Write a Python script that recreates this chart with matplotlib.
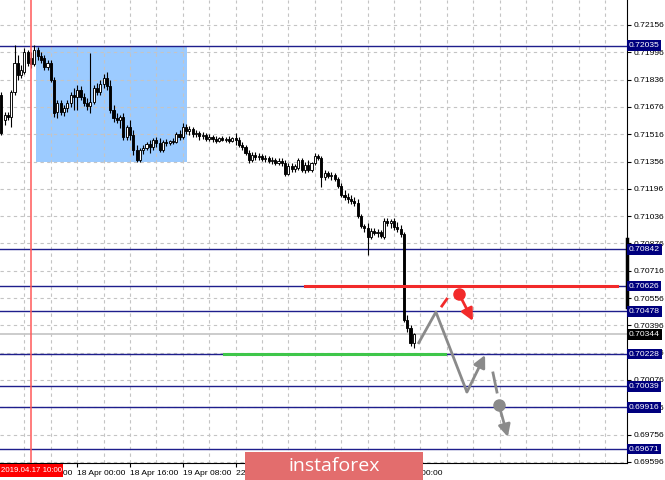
import numpy as np
import matplotlib
matplotlib.use("Agg")
import matplotlib.pyplot as plt
from matplotlib.patches import Rectangle

plt.rcParams["font.family"] = ["Liberation Sans", "DejaVu Sans"]

# H1 candles, AUD/USD style quotes (bar 0 = 17 Apr 00:00)
opens = [0.71763, 0.71746, 0.71599, 0.71629, 0.71617, 0.71763, 0.71933, 0.71863, 0.71881, 0.71998,
         0.71963, 0.71928, 0.72010, 0.71974, 0.71963, 0.71910, 0.71933, 0.71834, 0.71646, 0.71699,
         0.71646, 0.71670, 0.71699, 0.71746, 0.71734, 0.71775, 0.71734, 0.71699, 0.71681, 0.71705,
         0.71787, 0.71763, 0.71810, 0.71845, 0.71799, 0.71658, 0.71611, 0.71599, 0.71617, 0.71500,
         0.71558, 0.71511, 0.71424, 0.71365, 0.71424, 0.71435, 0.71459, 0.71441, 0.71482, 0.71465,
         0.71424, 0.71471, 0.71465, 0.71476, 0.71471, 0.71517, 0.71500, 0.71558, 0.71535, 0.71547,
         0.71517, 0.71523, 0.71506, 0.71511, 0.71488, 0.71500, 0.71488, 0.71476, 0.71494, 0.71482,
         0.71488, 0.71476, 0.71494, 0.71482, 0.71453, 0.71441, 0.71406, 0.71365, 0.71394, 0.71383,
         0.71388, 0.71371, 0.71377, 0.71359, 0.71365, 0.71347, 0.71359, 0.71347, 0.71283, 0.71330,
         0.71312, 0.71318, 0.71365, 0.71306, 0.71336, 0.71306, 0.71347, 0.71388, 0.71377, 0.71265,
         0.71289, 0.71271, 0.71277, 0.71254, 0.71213, 0.71160, 0.71148, 0.71136, 0.71125, 0.71113,
         0.71037, 0.70978, 0.70967, 0.70914, 0.70949, 0.70937, 0.70943, 0.70914, 0.71007, 0.70996,
         0.71007, 0.70973, 0.70961, 0.70932, 0.70427, 0.70381, 0.70292]
highs = [0.71787, 0.71763, 0.71646, 0.71646, 0.71775, 0.72039, 0.71980, 0.71922, 0.72021, 0.72010,
         0.71998, 0.72039, 0.72027, 0.71998, 0.71980, 0.71951, 0.71951, 0.71851, 0.71717, 0.71717,
         0.71687, 0.71717, 0.71763, 0.71787, 0.71804, 0.71799, 0.71758, 0.71728, 0.71992, 0.71804,
         0.71816, 0.71834, 0.71869, 0.71881, 0.71834, 0.71687, 0.71641, 0.71629, 0.71641, 0.71570,
         0.71599, 0.71541, 0.71453, 0.71435, 0.71453, 0.71471, 0.71482, 0.71494, 0.71500, 0.71494,
         0.71482, 0.71488, 0.71482, 0.71494, 0.71529, 0.71541, 0.71582, 0.71576, 0.71564, 0.71558,
         0.71541, 0.71535, 0.71529, 0.71523, 0.71517, 0.71511, 0.71506, 0.71500, 0.71506, 0.71500,
         0.71506, 0.71500, 0.71523, 0.71500, 0.71471, 0.71453, 0.71424, 0.71412, 0.71412, 0.71406,
         0.71400, 0.71394, 0.71388, 0.71383, 0.71377, 0.71377, 0.71377, 0.71365, 0.71347, 0.71347,
         0.71342, 0.71377, 0.71377, 0.71353, 0.71365, 0.71353, 0.71406, 0.71400, 0.71388, 0.71306,
         0.71300, 0.71295, 0.71289, 0.71265, 0.71230, 0.71189, 0.71172, 0.71160, 0.71148, 0.71136,
         0.71048, 0.70990, 0.70996, 0.70967, 0.70967, 0.70961, 0.70955, 0.71025, 0.71025, 0.71019,
         0.71025, 0.71002, 0.70984, 0.70943, 0.70457, 0.70398, 0.70351]
lows = [0.71717, 0.71511, 0.71570, 0.71599, 0.71558, 0.71746, 0.71834, 0.71845, 0.71869, 0.71916,
        0.71904, 0.71916, 0.71951, 0.71933, 0.71892, 0.71892, 0.71822, 0.71617, 0.71611, 0.71629,
        0.71623, 0.71646, 0.71676, 0.71658, 0.71658, 0.71717, 0.71681, 0.71658, 0.71641, 0.71693,
        0.71746, 0.71746, 0.71787, 0.71775, 0.71641, 0.71588, 0.71582, 0.71552, 0.71482, 0.71482,
        0.71482, 0.71394, 0.71353, 0.71353, 0.71400, 0.71424, 0.71406, 0.71424, 0.71441, 0.71412,
        0.71412, 0.71447, 0.71453, 0.71459, 0.71465, 0.71482, 0.71488, 0.71517, 0.71511, 0.71500,
        0.71500, 0.71482, 0.71488, 0.71476, 0.71476, 0.71471, 0.71465, 0.71471, 0.71476, 0.71471,
        0.71465, 0.71471, 0.71453, 0.71441, 0.71424, 0.71394, 0.71347, 0.71353, 0.71365, 0.71365,
        0.71359, 0.71353, 0.71347, 0.71342, 0.71336, 0.71336, 0.71330, 0.71271, 0.71277, 0.71295,
        0.71295, 0.71306, 0.71295, 0.71289, 0.71295, 0.71295, 0.71336, 0.71365, 0.71207, 0.71248,
        0.71259, 0.71248, 0.71242, 0.71201, 0.71148, 0.71131, 0.71113, 0.71107, 0.71095, 0.71025,
        0.70967, 0.70943, 0.70808, 0.70902, 0.70926, 0.70914, 0.70908, 0.70902, 0.70978, 0.70967,
        0.70955, 0.70943, 0.70914, 0.70415, 0.70357, 0.70275, 0.70263]
closes = [0.71746, 0.71523, 0.71629, 0.71617, 0.71763, 0.71933, 0.71863, 0.71892, 0.71998, 0.71933,
          0.71928, 0.72010, 0.71974, 0.71951, 0.71910, 0.71933, 0.71834, 0.71641, 0.71699, 0.71646,
          0.71670, 0.71699, 0.71746, 0.71734, 0.71775, 0.71734, 0.71699, 0.71681, 0.71705, 0.71787,
          0.71763, 0.71810, 0.71845, 0.71799, 0.71658, 0.71611, 0.71599, 0.71617, 0.71500, 0.71558,
          0.71511, 0.71424, 0.71365, 0.71424, 0.71435, 0.71459, 0.71441, 0.71482, 0.71465, 0.71424,
          0.71471, 0.71465, 0.71476, 0.71471, 0.71517, 0.71500, 0.71558, 0.71535, 0.71547, 0.71517,
          0.71523, 0.71506, 0.71511, 0.71488, 0.71500, 0.71488, 0.71476, 0.71494, 0.71482, 0.71488,
          0.71476, 0.71494, 0.71482, 0.71453, 0.71441, 0.71406, 0.71365, 0.71394, 0.71383, 0.71388,
          0.71371, 0.71377, 0.71359, 0.71365, 0.71347, 0.71359, 0.71347, 0.71283, 0.71330, 0.71312,
          0.71330, 0.71365, 0.71306, 0.71336, 0.71306, 0.71347, 0.71388, 0.71377, 0.71265, 0.71289,
          0.71271, 0.71277, 0.71254, 0.71213, 0.71160, 0.71148, 0.71136, 0.71125, 0.71113, 0.71037,
          0.70978, 0.70967, 0.70914, 0.70949, 0.70937, 0.70943, 0.70920, 0.71007, 0.70996, 0.71007,
          0.70973, 0.70961, 0.70932, 0.70427, 0.70381, 0.70292, 0.70344]

time_ticks = [8, 24, 40, 56, 72, 88, 104, 120]
time_labels = ["17 Apr 08:00", "18 Apr 00:00", "18 Apr 16:00", "19 Apr 08:00",
               "22 Apr 00:00", "22 Apr 16:00", "23 Apr 08:00", "24 Apr 00:00"]
price_ticks = [0.72156, 0.71996, 0.71836, 0.71676, 0.71516, 0.71356, 0.71196, 0.71036, 0.70876,
               0.70716, 0.70556, 0.70396, 0.70236, 0.70076, 0.69916, 0.69756, 0.69596]
levels = [0.72035, 0.70842, 0.70626, 0.70478, 0.70228, 0.70039, 0.69916, 0.69671]
last_price = 0.70344
marker_bar = 10  # 2019.04.17 10:00

# forecast sketch (bar index, price)
gray_path_x = [127.3, 132.7, 142.1]
gray_path_y = [0.70287, 0.70474, 0.70005]
gray_up_tip = (147.6, 0.70222)
gray_dash_x = [150.0, 151.2]
gray_dash_y = [0.70117, 0.70005]
gray_dot = (151.8, 0.69929)
gray_down_tip = (154.5, 0.69742)
red_dash_x = [134.5, 136.0]
red_dash_y = [0.70509, 0.70550]
red_dot = (139.7, 0.70580)
red_down_tip = (143.9, 0.70422)

W, H = 665, 480
fig = plt.figure(figsize=(W / 100, H / 100), dpi=100)
ax = fig.add_axes([0, 17 / H, 627 / W, 463 / H])
ax.set_xlim(0.606, 190.606)
ax.set_ylim(0.695893, 0.723025)

navy = "#1e1e8c"
fs = 6.1
grid_kw = dict(color="#c4c4c4", lw=0.8, ls=(0, (3, 3)), zorder=1)
for p in price_ticks:
    ax.axhline(p, **grid_kw)
for gx in range(0, 192, 8):
    ax.axvline(gx, **grid_kw)

# analysis box
ax.add_patch(Rectangle((11.5, 0.71354), 45.8, 0.72035 - 0.71354,
                       facecolor="#9ccbff", edgecolor="none", zorder=0.5))

# candles
idx = np.arange(len(closes))
o = np.array(opens)
c = np.array(closes)
ax.vlines(idx, lows, highs, color="black", lw=0.8, zorder=3)
up = c >= o
body = np.maximum(np.abs(c - o), 0.00002)
ax.bar(idx[up], body[up], bottom=o[up], width=0.62, color="white",
       edgecolor="black", lw=0.65, zorder=4)
ax.bar(idx[~up], body[~up], bottom=c[~up], width=0.62, color="black",
       edgecolor="black", lw=0.65, zorder=4)

# level lines
for lv in levels:
    ax.axhline(lv, color=navy, lw=1, zorder=2)
ax.axhline(last_price, color="#c8c8c8", lw=1.3, zorder=2)
ax.plot([93, 187.6], [0.70626, 0.70626], color="#f22a2a", lw=2.2, zorder=5)
ax.plot([68.5, 135.5], [0.70228, 0.70228], color="#3fc64a", lw=2.2, zorder=5)
ax.axvline(marker_bar, color="#ff5a5a", lw=1.3, alpha=0.85, zorder=6)

# forecast arrows
gray = "#8a8a8a"
ax.plot(gray_path_x, gray_path_y, color=gray, lw=2, zorder=6, solid_capstyle="butt")
ax.annotate("", xy=gray_up_tip, xytext=(gray_path_x[-1], gray_path_y[-1]),
            arrowprops=dict(arrowstyle="-|>", color=gray, lw=2, mutation_scale=18,
                            shrinkA=0, shrinkB=0), zorder=6)
ax.plot(gray_dash_x, gray_dash_y, color=gray, lw=2, zorder=6)
ax.plot(*gray_dot, "o", color=gray, ms=8, zorder=6)
ax.annotate("", xy=gray_down_tip, xytext=gray_dot,
            arrowprops=dict(arrowstyle="-|>", color=gray, lw=2, mutation_scale=18,
                            shrinkA=0, shrinkB=0), zorder=6)
ax.plot(red_dash_x, red_dash_y, color="#f22a2a", lw=2, zorder=6)
ax.plot(*red_dot, "o", color="#f22a2a", ms=8, zorder=6)
ax.annotate("", xy=red_down_tip, xytext=red_dot,
            arrowprops=dict(arrowstyle="-|>", color="#f22a2a", lw=2, mutation_scale=18,
                            shrinkA=0, shrinkB=0), zorder=6)

# axes look
for s in ["top", "left"]:
    ax.spines[s].set_visible(False)
ax.yaxis.tick_right()
ax.set_yticks(price_ticks)
ax.set_yticklabels([f"{p:.5f}" for p in price_ticks])
ax.tick_params(axis="y", labelsize=fs, length=3, pad=2, colors="black")
ax.set_xticks(time_ticks)
ax.set_xticklabels(time_labels, ha="left")
ax.tick_params(axis="x", labelsize=fs, length=3, pad=2)

ytr = ax.get_yaxis_transform()
ax.plot([1.0, 1.0], [0.70903, 0.70503], transform=ytr, color="black", lw=2.5,
        clip_on=False, zorder=7)
for lv in levels:
    ax.text(1.003, lv, f"{lv:.5f}", transform=ytr, ha="left", va="center",
            fontsize=fs, color="white", zorder=10, clip_on=False,
            bbox=dict(boxstyle="square,pad=0.22", fc="#00007e", ec="none"))
ax.text(1.003, last_price, f"{last_price:.5f}", transform=ytr, ha="left", va="center",
        fontsize=fs, color="white", zorder=10, clip_on=False,
        bbox=dict(boxstyle="square,pad=0.22", fc="black", ec="none"))

# time marker label
fig.patches.append(Rectangle((0, 3 / H), 63 / W, 13 / H, transform=fig.transFigure,
                             facecolor="#ff0000", edgecolor="none", zorder=10))
fig.text(31.5 / W, 9.5 / H, "2019.04.17 10:00", ha="center", va="center",
         fontsize=5.7, color="white", zorder=11)

# watermark
fig.patches.append(Rectangle((245 / W, 0), 178 / W, 28 / H, transform=fig.transFigure,
                             facecolor="#e36d6d", edgecolor="none", zorder=20))
fig.text(334 / W, 14 / H, "instaforex", ha="center", va="center", fontsize=14,
         color="white", family="Open Sans", zorder=21)

fig.savefig("out.png", dpi=100)
